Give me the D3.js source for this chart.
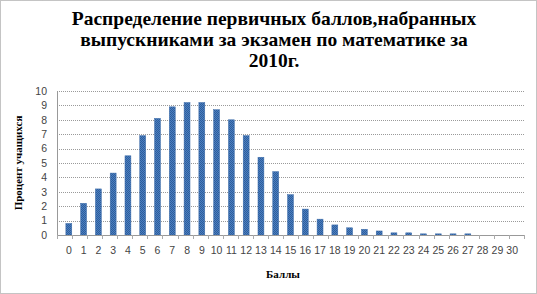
<!DOCTYPE html>
<html>
<head>
<meta charset="utf-8">
<script src="https://cdn.jsdelivr.net/npm/d3@7"></script>
<style>
  body { margin: 0; background: #fff; }
  .serif { font-family: 'Liberation Serif', 'DejaVu Serif', 'Times New Roman', serif; font-weight: bold; }
  .tick text { font-family: 'Liberation Sans', Arial, sans-serif; }
</style>
</head>
<body>
<div id="chart"></div>
<script>
var scores = d3.range(0, 31);
var percents = [0.8, 2.2, 3.2, 4.3, 5.5, 6.9, 8.1, 8.9, 9.2, 9.2, 8.7, 8.0, 6.9, 5.4, 4.4, 2.8,
  1.8, 1.1, 0.7, 0.5, 0.4, 0.28, 0.15, 0.15, 0.08, 0.08, 0.08, 0.08, 0, 0, 0];
var yTicks = [0, 1, 2, 3, 4, 5, 6, 7, 8, 9, 10];
var titleLines = ["Распределение первичных баллов,набранных",
  "выпускниками за экзамен по математике за", "2010г."];

var svgWidth = 537, svgHeight = 294;
var margin = {top: 91, right: 13, bottom: 59, left: 57};
var width = svgWidth - margin.left - margin.right;
var height = svgHeight - margin.top - margin.bottom;

var svg = d3.select("#chart").append("svg")
  .attr("width", svgWidth)
  .attr("height", svgHeight);

// outer dotted frame
svg.append("rect")
  .attr("x", 0.5).attr("y", 0.5)
  .attr("width", svgWidth - 1).attr("height", svgHeight - 1)
  .attr("fill", "#fff")
  .attr("stroke", "#888")
  .attr("stroke-dasharray", "1,1");

// hatch pattern for bars
var defs = svg.append("defs");
var pat = defs.append("pattern")
  .attr("id", "hatch")
  .attr("patternUnits", "userSpaceOnUse")
  .attr("width", 2).attr("height", 2);
pat.append("rect").attr("width", 2).attr("height", 2).attr("fill", "#4a7fc1");
pat.append("rect").attr("width", 1).attr("height", 1).attr("fill", "#2f5d9a");
pat.append("rect").attr("x", 1).attr("y", 1).attr("width", 1).attr("height", 1).attr("fill", "#2f5d9a");

// title
svg.append("g").selectAll("text")
  .data(titleLines)
  .enter().append("text")
  .attr("class", "serif")
  .attr("x", 274)
  .attr("y", (d, i) => 25 + i * 21)
  .attr("text-anchor", "middle")
  .attr("font-size", "19.5px")
  .text(d => d);

var chartGroup = svg.append("g")
  .attr("transform", `translate(${margin.left}, ${margin.top})`);

var xScale = d3.scaleBand()
  .domain(scores)
  .range([0, width])
  .padding(0.6);

var yScale = d3.scaleLinear()
  .domain([0, 10])
  .range([height, 0]);

// gridlines
chartGroup.append("g").selectAll("line")
  .data(yTicks.slice(1))
  .enter().append("line")
  .attr("x1", 0).attr("x2", width)
  .attr("y1", d => Math.round(yScale(d)) + 0.5)
  .attr("y2", d => Math.round(yScale(d)) + 0.5)
  .attr("stroke", "#9a9a9a")
  .attr("stroke-dasharray", "1,1");

// y axis
var leftAxis = d3.axisLeft(yScale).tickValues(yTicks).tickSize(0).tickPadding(10);
var yAxisG = chartGroup.append("g").call(leftAxis);
yAxisG.select(".domain").attr("stroke", "#999");
yAxisG.selectAll("text")
  .attr("font-size", "10.5px")
  .attr("fill", "#444");

// bars
chartGroup.selectAll(".bar")
  .data(percents)
  .enter().append("rect")
  .attr("class", "bar")
  .attr("x", (d, i) => xScale(scores[i]))
  .attr("width", xScale.bandwidth())
  .attr("y", d => yScale(d))
  .attr("height", d => height - yScale(d))
  .attr("fill", "url(#hatch)")
  .attr("stroke", "#3b6aa8")
  .attr("stroke-width", 0.5);

// x axis
var bottomAxis = d3.axisBottom(xScale).tickSize(0).tickPadding(12);
var xAxisG = chartGroup.append("g")
  .attr("transform", `translate(0, ${height})`)
  .call(bottomAxis);
xAxisG.select(".domain").attr("stroke", "#999");
xAxisG.selectAll("text")
  .attr("font-size", "10.5px")
  .attr("fill", "#444");

// small tick marks between categories
chartGroup.append("g").selectAll("line")
  .data(d3.range(0, 32))
  .enter().append("line")
  .attr("x1", d => Math.round(d * width / 31) + 0.5)
  .attr("x2", d => Math.round(d * width / 31) + 0.5)
  .attr("y1", height).attr("y2", height + 4)
  .attr("stroke", "#aaa");

// axis titles
svg.append("text")
  .attr("class", "serif")
  .attr("transform", "translate(22, 163) rotate(-90)")
  .attr("text-anchor", "middle")
  .attr("font-size", "11px")
  .text("Процент учащихся");

svg.append("text")
  .attr("class", "serif")
  .attr("x", 283).attr("y", 278)
  .attr("text-anchor", "middle")
  .attr("font-size", "11px")
  .text("Баллы");
</script>
</body>
</html>
